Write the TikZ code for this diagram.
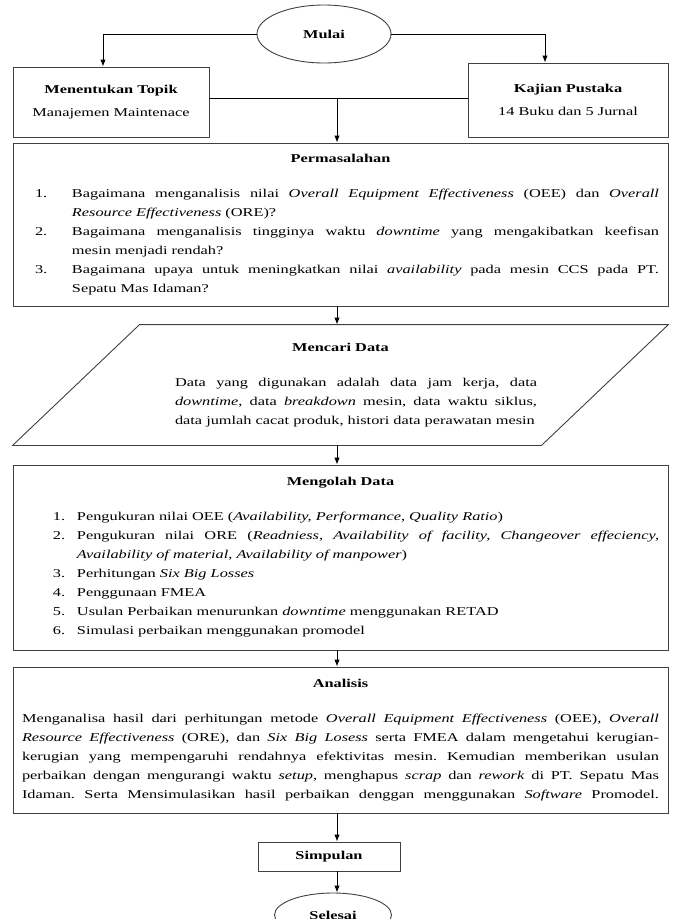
\documentclass[tikz,border=0pt]{standalone}
\usepackage{fontspec}
\setmainfont{Liberation Serif}[FakeStretch=1.36]
\usetikzlibrary{arrows.meta,positioning,calc,shapes.geometric}

\newcommand{\boxtitle}[1]{{\centering\textbf{#1}\par}\vspace{16pt}}
\newcommand{\numitem}[3]{\par\hangindent=#2\hangafter=1\noindent\hspace*{#1}\makebox[\dimexpr#2-#1\relax][l]{#3}\ignorespaces}
\frenchspacing

\begin{document}
\begin{tikzpicture}[->, >={Latex[length=7pt,width=5.5pt]}, x=1pt, y=-1pt, line width=0.9pt]
	\tikzstyle{every node}=[font=\fontsize{12}{19}\selectfont, text=black]
	\tikzstyle{box}=[draw=black!75, rectangle, inner sep=0pt, align=center]
	\tikzstyle{wide box}=[box, minimum width=655pt, text width=637pt, inner xsep=9pt, align=justify]
	\tikzstyle{terminal}=[draw=black!75, ellipse, inner sep=0pt, font=\fontsize{12}{19}\selectfont\bfseries]
	\useasboundingbox (0,0) rectangle (673,919);

	\node[terminal, minimum width=134pt, minimum height=58pt] (mulai) at (324,34) {Mulai};
	\node[box, minimum width=196pt, minimum height=70pt] (topik) at (111,102)
		{\textbf{Menentukan Topik}\\[4pt] Manajemen Maintenace};
	\node[box, minimum width=200pt, minimum height=74pt] (pustaka) at (568,100)
		{\textbf{Kajian Pustaka}\\[4pt] 14 Buku dan 5 Jurnal};
	\coordinate (join) at (337,98);

	\node[wide box, minimum height=163pt] (masalah) at (340.5,224.5) {\boxtitle{Permasalahan}
		\numitem{13pt}{50pt}{1.}Bagaimana menganalisis nilai \textit{Overall Equipment Effectiveness} (OEE) dan \textit{Overall}\linebreak \textit{Resource Effectiveness} (ORE)?
		\numitem{13pt}{50pt}{2.}Bagaimana menganalisis tingginya waktu \textit{downtime} yang mengakibatkan keefisan\linebreak mesin menjadi rendah?
		\numitem{13pt}{50pt}{3.}Bagaimana upaya untuk meningkatkan nilai \textit{availability} pada mesin CCS pada PT.\linebreak Sepatu Mas Idaman?\par};

	\node[wide box, draw=none, text width=393pt, inner xsep=131pt, minimum height=120pt] (data) at (340.5,385) {\boxtitle{Mencari Data}
		{\leftskip=31pt\noindent Data yang digunakan adalah data jam kerja, data\linebreak \textit{downtime}, data \textit{breakdown} mesin, data waktu siklus,\linebreak data jumlah cacat produk, histori data perawatan mesin\par}};
	\draw[-, draw=black!75] (data.south west) -- ([xshift=127pt]data.north west) -- (data.north east)
		-- ([xshift=-127pt]data.south east) -- cycle;

	\node[wide box, minimum height=185pt] (olah) at (340.5,557.5) {\boxtitle{Mengolah Data}
		\numitem{31pt}{55pt}{1.}Pengukuran nilai OEE (\textit{Availability, Performance, Quality Ratio})
		\numitem{31pt}{55pt}{2.}Pengukuran nilai ORE (\textit{Readniess, Availability of facility, Changeover effeciency,}\linebreak \textit{Availability of material, Availability of manpower})
		\numitem{31pt}{55pt}{3.}Perhitungan \textit{Six Big Losses}
		\numitem{31pt}{55pt}{4.}Penggunaan FMEA
		\numitem{31pt}{55pt}{5.}Usulan Perbaikan menurunkan \textit{downtime} menggunakan RETAD
		\numitem{31pt}{55pt}{6.}Simulasi perbaikan menggunakan promodel\par};

	\node[wide box, minimum height=146pt] (analisis) at (340.5,740) {\boxtitle{Analisis}
		{\noindent\parfillskip=0pt Menganalisa hasil dari perhitungan metode \textit{Overall Equipment Effectiveness} (OEE), \textit{Overall}\linebreak \textit{Resource Effectiveness} (ORE), dan \textit{Six Big Losess} serta FMEA dalam mengetahui kerugian-\linebreak kerugian yang mempengaruhi rendahnya efektivitas mesin. Kemudian memberikan usulan\linebreak perbaikan dengan mengurangi waktu \textit{setup}, menghapus \textit{scrap} dan \textit{rework} di PT. Sepatu Mas\linebreak Idaman. Serta Mensimulasikan hasil perbaikan denggan menggunakan \textit{Software} Promodel.\par}};

	\node[box, minimum width=142pt, minimum height=29pt, font=\fontsize{12}{19}\selectfont\bfseries] (simpulan) at (329,856.5) {Simpulan};
	\node[terminal, minimum width=117pt, minimum height=44pt] (selesai) at (333,915) {Selesai};

	\draw (mulai.west) -| ([xshift=-8pt]topik.north);
	\draw (mulai.east) -| ([xshift=-23pt]pustaka.north);
	\draw[-] (topik.east |- join) -- (pustaka.west |- join);
	\path
	(join) edge (join |- masalah.north)
	(masalah.south -| join) edge (data.north -| join)
	(data.south -| join) edge (olah.north -| join)
	(olah.south -| join) edge (analisis.north -| join)
	(analisis.south -| join) edge (simpulan.north -| join)
	(simpulan.south -| join) edge (selesai.north -| join);
\end{tikzpicture}
\end{document}
